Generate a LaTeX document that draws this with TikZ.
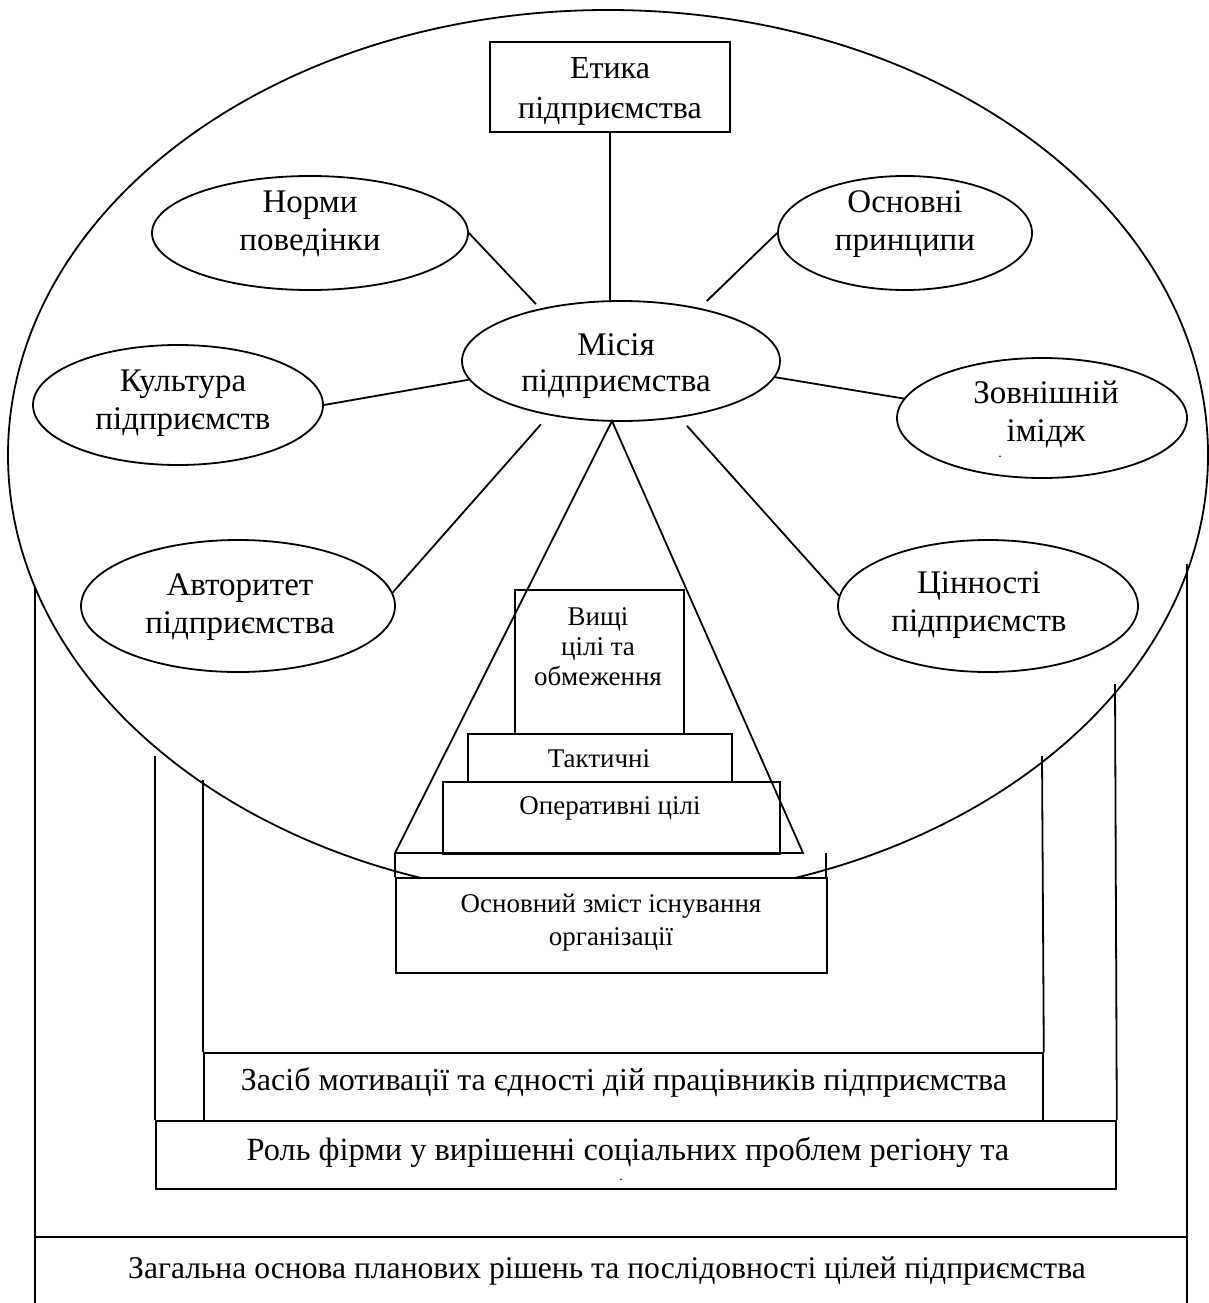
\documentclass[tikz,border=0pt]{standalone}
\usepackage{fontspec}
\setmainfont{Liberation Serif}
\usetikzlibrary{shapes.geometric,calc}

\begin{document}
\begin{tikzpicture}[x=1pt,y=-1pt,line width=1.8pt,
  oval/.style={draw,ellipse,inner sep=0pt},
  box/.style={draw,rectangle,inner sep=0pt},
  bigtxt/.style={align=center,font=\fontsize{33}{38}\selectfont},
  lowtxt/.style={align=center,inner sep=0pt,font=\fontsize{32}{38}\selectfont},
  midtxt/.style={align=center,font=\fontsize{27}{30}\selectfont},
  dottxt/.style={inner sep=0pt,font=\fontsize{14}{16}\selectfont}]

\useasboundingbox (0,0) rectangle (1209,1303);

% outer frame lines and bottom boxes
\coordinate (fa1) at (35,588);   \coordinate (fa2) at (35,1310);
\coordinate (fb1) at (1187,564); \coordinate (fb2) at (1187,1310);
\draw (fa1) -- (fa2);
\draw (fb1) -- (fb2);
\coordinate (general) at (35,1237);
\draw (general) -- (general -| fb1);
\node[lowtxt,font=\fontsize{31.6}{38}\selectfont] (generaltxt) at (607,1271) {Загальна основа планових рішень та послідовності цілей підприємства};

\coordinate (fc1) at (155,756);  \coordinate (fd1) at (1115,684);
\node[box,minimum width=960pt,minimum height=68pt,anchor=north west] (role) at (155,1120) {};
\draw (fc1) -- (role.north west);
\draw (fd1) -- (role.north east);
\node[lowtxt,font=\fontsize{32.4}{38}\selectfont] (roletxt) at (628,1152) {Роль фірми у вирішенні соціальних проблем регіону та};
\node[dottxt] (roledot) at (621,1180) {.};

\coordinate (fe1) at (203,780);  \coordinate (ff1) at (1042,756);
\node[box,minimum width=839pt,minimum height=68pt,anchor=north west] (motiv) at (203,1052) {};
\draw (fe1) -- (motiv.north west);
\draw (ff1) -- (motiv.north east);
\node[lowtxt] (motivtxt) at (624,1082) {Засіб мотивації та єдності дій працівників підприємства};

% big ellipse
\node[oval,minimum width=1200pt,minimum height=890pt] (big) at (608,455) {};

% pyramid of goals
\coordinate (apex) at (612,421);
\coordinate (pl) at (395,853);
\coordinate (pr) at (803,853);
\draw (apex) -- (pl) -- (pr) -- cycle;
\draw (pl) -- (395,877);
\draw (826,853) -- (826,877);
\node[box,fill=white,minimum width=431pt,minimum height=95pt,anchor=north west] (core) at (395,877) {};
\node[midtxt,font=\fontsize{27}{33}\selectfont] (coretxt) at (611,923) {Основний зміст існування\\організації};

\node[box,minimum width=337pt,minimum height=72pt,anchor=north west] (oper) at (442,781) {};
\node[midtxt] (opertxt) at (610,808) {Оперативні цілі};
\node[box,minimum width=264pt,minimum height=48pt,anchor=north west] (takt) at (467,733) {};
\node[midtxt] (takttxt) at (599,759) {Тактичні};
\node[box,minimum width=169pt,minimum height=144pt,anchor=north west] (top) at (514,589) {};
\node[midtxt] (toptxt) at (598,647) {Вищі\\цілі та\\обмеження};

% mission and its surroundings
\node[oval,minimum width=318pt,minimum height=120pt] (mis) at (621,361) {};
\node[bigtxt,font=\fontsize{33}{36}\selectfont] at (616,366) {Місія\\підприємства};

\node[box,minimum width=240pt,minimum height=90pt] (etika) at (610,87) {};
\node[bigtxt,font=\fontsize{32}{40}\selectfont] at (610,91) {Етика\\підприємства};

\node[oval,minimum width=316pt,minimum height=114pt] (norm) at (310,233) {};
\node[bigtxt] at (310,224) {Норми\\поведінки};

\node[oval,minimum width=254pt,minimum height=114pt] (princ) at (905,233) {};
\node[bigtxt] at (905,224) {Основні\\принципи};

\node[oval,minimum width=290pt,minimum height=120pt] (cult) at (178,405) {};
\node[bigtxt] at (183,403) {Культура\\підприємств};

\node[oval,minimum width=290pt,minimum height=120pt] (image) at (1042,418) {};
\node[bigtxt] at (1046,414) {Зовнішній\\імідж};
\node[dottxt] (imagedot) at (1000,457) {.};

\node[oval,minimum width=314pt,minimum height=132pt] (avt) at (238,606) {};
\node[bigtxt] at (240,607) {Авторитет\\підприємства};

\node[oval,minimum width=300pt,minimum height=132pt] (cin) at (988,606) {};
\node[bigtxt] at (979,605) {Цінності\\підприємств};

% links to the mission
\draw (etika.south) -- (etika.south |- mis.north);
\draw[shorten >=6pt] (norm.east) -- (mis.147);
\draw[shorten >=10pt] (princ.west) -- (mis.34);
\draw (cult.east) -- (mis.187);
\draw (image.172) -- (mis.-6);
\draw[shorten >=12pt] (avt.5) -- (mis.217);
\draw[shorten >=11pt] (cin.176) -- (mis.-44);

\end{tikzpicture}
\end{document}
